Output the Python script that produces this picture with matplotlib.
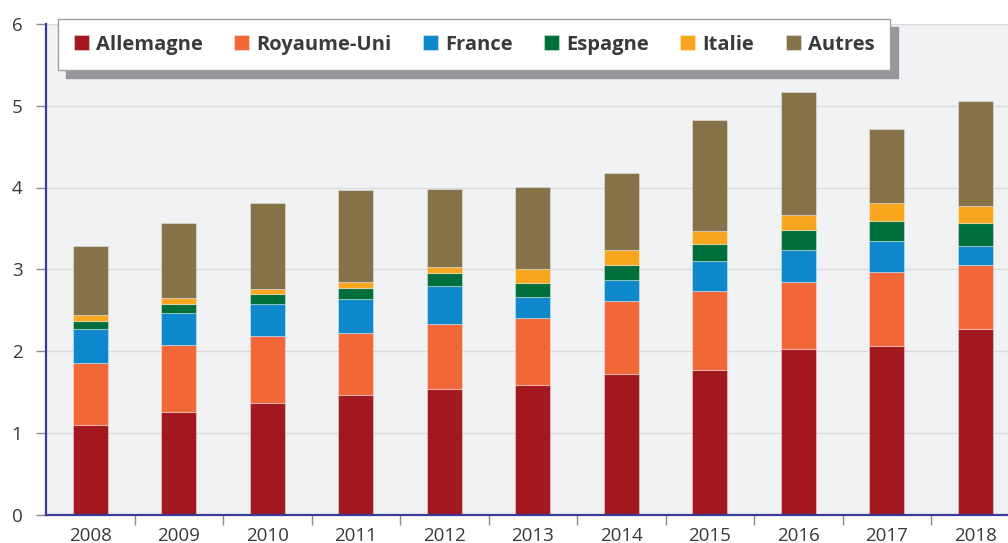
import matplotlib
matplotlib.use("Agg")
import matplotlib.pyplot as plt
import numpy as np

years = ["2008", "2009", "2010", "2011", "2012", "2013", "2014", "2015", "2016", "2017", "2018"]
allemagne = [1.10, 1.25, 1.36, 1.46, 1.535, 1.58, 1.72, 1.77, 2.02, 2.065, 2.265]
royaume_uni = [0.75, 0.82, 0.82, 0.76, 0.795, 0.82, 0.89, 0.96, 0.83, 0.905, 0.785]
france = [0.42, 0.40, 0.39, 0.41, 0.47, 0.26, 0.255, 0.37, 0.39, 0.37, 0.23]
espagne = [0.10, 0.11, 0.13, 0.14, 0.16, 0.17, 0.185, 0.21, 0.24, 0.25, 0.28]
italie = [0.07, 0.07, 0.06, 0.07, 0.07, 0.17, 0.18, 0.16, 0.18, 0.22, 0.21]
autres = [0.85, 0.92, 1.05, 1.13, 0.95, 1.01, 0.95, 1.36, 1.51, 0.91, 1.29]

series = [
    ("Allemagne", allemagne, "#A3181E"),
    ("Royaume-Uni", royaume_uni, "#F26738"),
    ("France", france, "#0D88CA"),
    ("Espagne", espagne, "#006E3B"),
    ("Italie", italie, "#F8A61E"),
    ("Autres", autres, "#857249"),
]

plt.rcParams['font.family'] = ['Open Sans', 'DejaVu Sans']

fig = plt.figure(figsize=(10.08, 5.43), dpi=100)
ax = fig.add_axes([46/1008, 1-514.5/543, 962/1008, (514.5-24)/543])
ax.set_facecolor("#F1F2F4")

x = np.arange(len(years))
bottom = np.zeros(len(years))
handles = []
for name, vals, col in series:
    b = ax.bar(x, vals, width=0.4, bottom=bottom, color=col,
               edgecolor=(1, 1, 1, 0.35), linewidth=0.8, label=name, zorder=3)
    handles.append(b)
    bottom += np.array(vals)

ax.set_xlim(-0.5, 10.37)
ax.set_ylim(0, 6)
ax.set_yticks(range(0, 7))
ax.set_xticks(x)
ax.set_xticklabels(years)
ax.set_xticks(np.arange(0.5, 10.5, 1), minor=True)
ax.tick_params(axis='x', which='major', length=0, pad=9, labelsize=13.5, labelcolor="#3A3A3A")
ax.tick_params(axis='x', which='minor', length=7, width=1, color="#8A8A8A", direction='out')
ax.tick_params(axis='y', length=7, width=1, color="#8A8A8A", pad=10, labelsize=13.5, labelcolor="#3A3A3A")
ax.grid(axis='y', color="#D9DADC", linewidth=1, zorder=0)
ax.set_axisbelow(True)

for s in ["top", "right"]:
    ax.spines[s].set_visible(False)
for s in ["left", "bottom"]:
    ax.spines[s].set_color("#3B3A98")
    ax.spines[s].set_linewidth(1.6)
    ax.spines[s].set_zorder(4)

leg = fig.legend(handles=handles, labels=[s[0] for s in series],
                 loc='upper left', bbox_to_anchor=(58/1008, 0.0, 832/1008, 1-19/543),
                 mode='expand', ncol=6, frameon=True, fancybox=False,
                 shadow={'ox': 5.8, 'oy': -5.8, 'facecolor': '#96979A', 'edgecolor': '#96979A', 'alpha': 1},
                 borderaxespad=0, borderpad=0.78, handlelength=0.75, handleheight=0.75,
                 handletextpad=0.35, prop={'weight': 'bold', 'size': 14.5})
leg.get_frame().set_edgecolor("#A0A0A0")
leg.get_frame().set_linewidth(1.0)
for t in leg.get_texts():
    t.set_color("#3A3A3A")

fig.savefig("out.png", dpi=100)
